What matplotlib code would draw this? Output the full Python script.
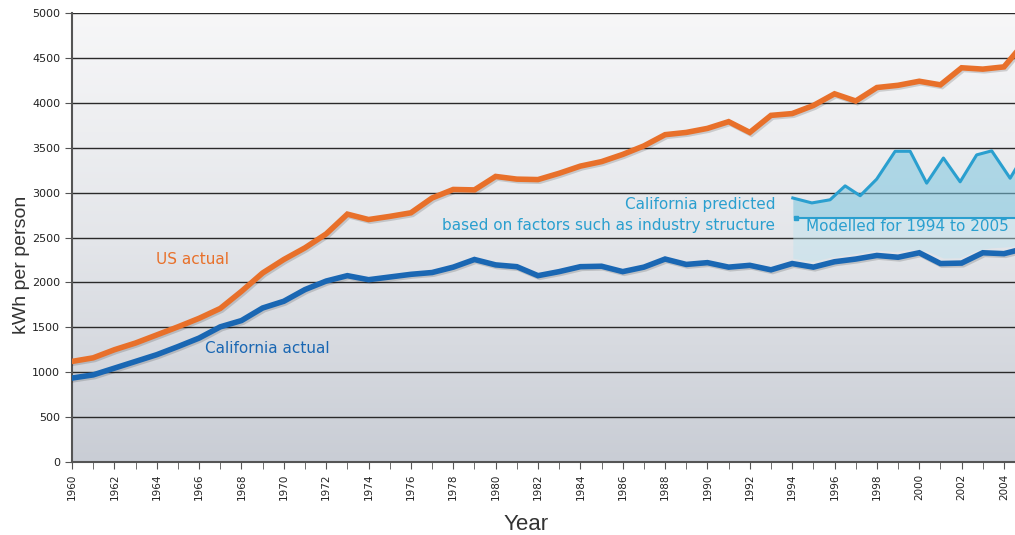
import numpy as np
import matplotlib.pyplot as plt
import matplotlib.patheffects as pe
from matplotlib.colors import LinearSegmentedColormap

years = list(range(1960, 2006))
us_actual = [1120, 1160, 1250, 1325, 1415, 1505, 1600, 1710, 1900, 2105,
             2255, 2385, 2540, 2760, 2700, 2735, 2775, 2940, 3035, 3030,
             3180, 3150, 3145, 3215, 3295, 3345, 3425, 3520, 3645, 3670,
             3715, 3790, 3670, 3860, 3880, 3970, 4100, 4020, 4170, 4195,
             4240, 4200, 4390, 4375, 4400, 4680]
ca_actual = [935, 970, 1045, 1120, 1195, 1285, 1380, 1505, 1575, 1715,
             1790, 1920, 2015, 2075, 2030, 2060, 2090, 2110, 2170, 2255,
             2195, 2175, 2075, 2120, 2175, 2180, 2120, 2170, 2260, 2200,
             2220, 2170, 2190, 2140, 2210, 2170, 2230, 2260, 2300, 2280,
             2330, 2210, 2215, 2330, 2320, 2380]

pred_years = [1994.03, 1994.93, 1995.79, 1996.50, 1997.21, 1997.99, 1998.86,
              1999.57, 2000.35, 2001.14, 2001.93, 2002.71, 2003.42, 2004.29, 2005.0]
pred_vals = [2940, 2885, 2920, 3075, 2965, 3150, 3460, 3460, 3105, 3385,
             3120, 3420, 3465, 3160, 3440]

orange = '#e8702a'
blue = '#1a67b3'
lblue = '#2a9fcf'

fig = plt.figure(figsize=(10.15, 5.35), dpi=100)
ax = fig.add_axes([72/1015, 73/535, 943/1015, 449/535])

# background gradient
cmap = LinearSegmentedColormap.from_list('bg', ['#c9cdd5', '#e4e6ea', '#f7f7f8'])
grad = np.linspace(0, 1, 256).reshape(-1, 1)
ax.imshow(grad, aspect='auto', cmap=cmap, origin='lower',
          extent=[1960, 2004.52, 0, 5000], zorder=0)

for v in range(500, 5001, 500):
    ax.axhline(v, color='#2a2a2a', lw=1.0, zorder=1)

# predicted area
px = np.array(pred_years)
py = np.array(pred_vals)
ca_under = np.interp(px, years, ca_actual)
ax.fill_between(px, py, 2720, color='#7cc6df', alpha=0.55, lw=0, zorder=2)
ax.fill_between(px, 2720, ca_under + 60, color='#bde3ef', alpha=0.45, lw=0, zorder=2)
ax.plot(px, py, color=lblue, lw=2.2, zorder=3)
ax.plot([1994.2, 2004.52], [2720, 2720], color=lblue, lw=1.5, zorder=3)
ax.plot([1994.2], [2720], marker='s', ms=3, color=lblue, zorder=3)
ax.text(1994.65, 2620, 'Modelled for 1994 to 2005', color=lblue, fontsize=11,
        ha='left', va='center', zorder=4)

shadow = [pe.SimpleLineShadow(offset=(1.2, -1.2), alpha=0.15), pe.Normal()]
ax.plot(years, us_actual, color=orange, lw=4, zorder=5, path_effects=shadow,
        solid_joinstyle='miter')
ax.plot(years, ca_actual, color=blue, lw=4, zorder=5, path_effects=shadow,
        solid_joinstyle='miter')

ax.text(1965.7, 2260, 'US actual', color=orange, fontsize=11, ha='center', va='center')
ax.text(1969.2, 1260, 'California actual', color=blue, fontsize=11, ha='center', va='center')
ax.text(1993.2, 2865, 'California predicted', color=lblue, fontsize=11, ha='right', va='center')
ax.text(1993.2, 2630, 'based on factors such as industry structure', color=lblue,
        fontsize=11, ha='right', va='center')

ax.set_xlim(1960, 2004.52)
ax.set_ylim(0, 5000)
ax.set_yticks(range(0, 5001, 500))
ax.set_xticks(range(1960, 2005, 2))
ax.set_xticks(range(1960, 2005, 1), minor=True)
ax.tick_params(axis='y', labelsize=8, length=5, color='#555555', labelcolor='#222222')
ax.tick_params(axis='x', which='both', labelsize=7.5, length=5, color='#555555',
               labelrotation=90, labelcolor='#222222')
for s in ['top', 'right']:
    ax.spines[s].set_visible(False)
for s in ['left', 'bottom']:
    ax.spines[s].set_color('#555555')
    ax.spines[s].set_linewidth(1.5)

ax.set_xlabel('Year', fontsize=16, color='#333333', family='Liberation Sans')
ax.xaxis.set_label_coords((526 - 72) / 943, -0.115)
ax.set_ylabel('kWh per person', fontsize=14, color='#333333', family='Liberation Sans')
ax.yaxis.set_label_coords(-0.045, 0.44)

fig.savefig('out.png', dpi=100)
